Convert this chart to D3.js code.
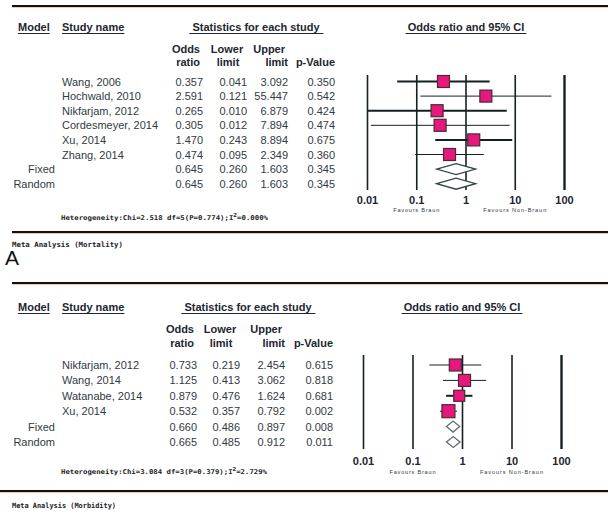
<!DOCTYPE html>
<html>
<head>
<meta charset="utf-8">
<script src="https://cdn.jsdelivr.net/npm/d3@7"></script>
<style>
  html, body { margin: 0; padding: 0; background: #fff; }
  svg { display: block; }
</style>
</head>
<body>
<svg id="chart" width="608" height="515"></svg>
<script>
// ---- Panel A: mortality ----
const mortalityStudies = ["Wang, 2006", "Hochwald, 2010", "Nikfarjam, 2012", "Cordesmeyer, 2014", "Xu, 2014", "Zhang, 2014"];
const mortalityModels = ["Fixed", "Random"];
const mortalityOR    = [0.357, 2.591, 0.265, 0.305, 1.470, 0.474, 0.645, 0.645];
const mortalityLower = [0.041, 0.121, 0.010, 0.012, 0.243, 0.095, 0.260, 0.260];
const mortalityUpper = [3.092, 55.447, 6.879, 7.894, 8.894, 2.349, 1.603, 1.603];
const mortalityP     = [0.350, 0.542, 0.424, 0.474, 0.675, 0.360, 0.345, 0.345];
const mortalityHet   = { chi: "2.518", df: "5", p: "0.774", i2: "0.000%" };

// ---- Panel B: morbidity ----
const morbidityStudies = ["Nikfarjam, 2012", "Wang, 2014", "Watanabe, 2014", "Xu, 2014"];
const morbidityModels = ["Fixed", "Random"];
const morbidityOR    = [0.733, 1.125, 0.879, 0.532, 0.660, 0.665];
const morbidityLower = [0.219, 0.413, 0.476, 0.357, 0.486, 0.485];
const morbidityUpper = [2.454, 3.062, 1.624, 0.792, 0.897, 0.912];
const morbidityP     = [0.615, 0.818, 0.681, 0.002, 0.008, 0.011];
const morbidityHet   = { chi: "3.084", df: "3", p: "0.379", i2: "2.729%" };

// Axis ticks shared by both forest plots
const tickValues = [0.01, 0.1, 1, 10, 100];
const tickLabels = ["0.01", "0.1", "1", "10", "100"];

const SANS = "'Liberation Sans', Arial, Helvetica, sans-serif";
const MONO = "'DejaVu Sans Mono', 'Liberation Mono', monospace";
const TEXT = "#323a44";
const HEAD = "#1d2631";
const INK  = "#152022";
const PINK = "#e8177c";

const svg = d3.select("#chart");

// horizontal rules with a faint warm shadow line under them
function rule(x1, x2, y) {
  svg.append("line").attr("x1", x1).attr("x2", x2).attr("y1", y + 1.6).attr("y2", y + 1.6)
    .attr("stroke", "#f2c3a6").attr("stroke-width", 1);
  svg.append("line").attr("x1", x1).attr("x2", x2).attr("y1", y).attr("y2", y)
    .attr("stroke", "#111").attr("stroke-width", 2.2);
}

function underlined(g, x, y, txt, anchor, pad) {
  const t = g.append("text").attr("x", x).attr("y", y).attr("text-anchor", anchor)
    .attr("font-family", SANS).attr("font-weight", "bold").attr("font-size", 11)
    .attr("fill", HEAD).text(txt);
  const b = t.node().getBBox();
  g.append("line").attr("x1", b.x - pad).attr("x2", b.x + b.width + pad)
    .attr("y1", y + 2.5).attr("y2", y + 2.5).attr("stroke", HEAD).attr("stroke-width", 1);
}

function panel(cfg) {
  const g = svg.append("g");
  const nStudies = cfg.studies.length;
  const nRows = cfg.or.length;
  const y = d3.scaleLinear().domain([0, nRows - 1])
    .range([cfg.rowY0, cfg.rowY0 + cfg.rowStep * (nRows - 1)]);
  const x = d3.scaleLog().domain([0.01, 100]).range(cfg.xRange);

  // column headings
  underlined(g, 18, cfg.headY, "Model", "start", 0);
  underlined(g, 62, cfg.headY, "Study name", "start", 0);
  underlined(g, cfg.statsCenter, cfg.headY, "Statistics for each study", "middle", 3);
  underlined(g, cfg.ciCenter, cfg.headY, "Odds ratio and 95% CI", "middle", 2);

  const sub = [
    { t: "Odds",    x: cfg.colOR - 3,  y: cfg.sub1, a: "end" },
    { t: "ratio",   x: cfg.colOR - 3,  y: cfg.sub2, a: "end" },
    { t: "Lower",   x: cfg.colLo - 20, y: cfg.sub1, a: "middle" },
    { t: "limit",   x: cfg.colLo - 19, y: cfg.sub2, a: "middle" },
    { t: "Upper",   x: cfg.colHi - 3,  y: cfg.sub1, a: "end" },
    { t: "limit",   x: cfg.colHi,      y: cfg.sub2, a: "end" },
    { t: "p-Value", x: cfg.colP,       y: cfg.sub2, a: "end" }
  ];
  g.selectAll("text.sub").data(sub).join("text").attr("class", "sub")
    .attr("x", d => d.x).attr("y", d => d.y).attr("text-anchor", d => d.a)
    .attr("font-family", SANS).attr("font-weight", "bold").attr("font-size", 11)
    .attr("fill", HEAD).text(d => d.t);

  const rows = d3.range(nRows).map(i => ({
    i,
    name: i < nStudies ? cfg.studies[i] : "",
    model: i < nStudies ? "" : cfg.models[i - nStudies],
    or: cfg.or[i], lo: cfg.lo[i], hi: cfg.hi[i], p: cfg.p[i],
    summary: i >= nStudies
  }));

  const txt = (sel) => sel.attr("font-family", SANS).attr("font-size", 11).attr("fill", TEXT);
  g.selectAll("text.name").data(rows).join("text").attr("class", "name")
    .attr("x", 62).attr("y", d => y(d.i) + 4).call(txt).text(d => d.name);
  g.selectAll("text.model").data(rows).join("text").attr("class", "model")
    .attr("x", 55).attr("y", d => y(d.i) + 4).attr("text-anchor", "end").call(txt).text(d => d.model);
  const cols = [
    { key: "or", x: cfg.colOR }, { key: "lo", x: cfg.colLo },
    { key: "hi", x: cfg.colHi }, { key: "p", x: cfg.colP }
  ];
  cols.forEach(c => {
    g.selectAll("text.v-" + c.key).data(rows).join("text").attr("class", "v-" + c.key)
      .attr("x", c.x).attr("y", d => y(d.i) + 4).attr("text-anchor", "end").call(txt)
      .text(d => d3.format(".3f")(d[c.key]));
  });

  // reference lines and tick labels
  const axis = d3.axisBottom(x).tickValues(tickValues)
    .tickFormat((d, i) => tickLabels[i])
    .tickSize(-(cfg.gridBot - cfg.gridTop)).tickPadding(cfg.tickY - cfg.gridBot - 8);
  const ax = g.append("g").attr("transform", `translate(0,${cfg.gridBot})`).call(axis);
  ax.select(".domain").remove();
  ax.selectAll(".tick line").attr("stroke", INK)
    .attr("stroke-width", d => d === 100 ? 2.4 : 1.6);
  ax.selectAll(".tick text").attr("font-family", SANS).attr("font-weight", "bold")
    .attr("font-size", 11).attr("fill", HEAD);

  // favours captions
  g.append("text").attr("x", x(0.1)).attr("y", cfg.favY).attr("text-anchor", "middle")
    .attr("font-family", SANS).attr("font-size", 5.6).attr("fill", TEXT)
    .attr("textLength", 46).text("Favours Braun");
  g.append("text").attr("x", x(10)).attr("y", cfg.favY).attr("text-anchor", "middle")
    .attr("font-family", SANS).attr("font-size", 5.6).attr("fill", TEXT)
    .attr("textLength", 63).text("Favours Non-Braun");

  // confidence intervals
  const studyRows = rows.filter(d => !d.summary);
  g.selectAll("line.ci").data(studyRows).join("line").attr("class", "ci")
    .attr("x1", d => x(Math.max(d.lo, 0.01))).attr("x2", d => x(Math.min(d.hi, 100)))
    .attr("y1", d => y(d.i)).attr("y2", d => y(d.i))
    .attr("stroke", INK).attr("stroke-width", (d, i) => cfg.ciWidth[i]);

  // point estimates
  g.selectAll("rect.pt").data(studyRows).join("rect").attr("class", "pt")
    .attr("x", (d, i) => x(d.or) - cfg.box[i] / 2).attr("y", (d, i) => y(d.i) - cfg.box[i] / 2)
    .attr("width", (d, i) => cfg.box[i]).attr("height", (d, i) => cfg.box[i])
    .attr("fill", PINK).attr("stroke", "#4a2a35").attr("stroke-width", 1.2);

  // pooled estimates
  const sumRows = rows.filter(d => d.summary);
  g.selectAll("path.dia").data(sumRows).join("path").attr("class", "dia")
    .attr("d", d => {
      const cy = y(d.i), h = cfg.diaH;
      return `M${x(d.lo)},${cy}L${x(d.or)},${cy - h}L${x(d.hi)},${cy}L${x(d.or)},${cy + h}Z`;
    })
    .attr("fill", "#fff").attr("stroke", cfg.diaStroke).attr("stroke-width", 1.3);

  // heterogeneity note
  const h = cfg.het;
  const ht = g.append("text").attr("x", 61).attr("y", cfg.hetY)
    .attr("font-family", MONO).attr("font-weight", "bold").attr("font-size", 6.6)
    .attr("fill", "#222").attr("textLength", cfg.hetLen).attr("lengthAdjust", "spacingAndGlyphs");
  ht.append("tspan").text(`Heterogeneity:Chi=${h.chi} df=${h.df}(P=${h.p});I`);
  ht.append("tspan").attr("dy", -3).attr("font-size", 5.5).text("2");
  ht.append("tspan").attr("dy", 3).text(`=${h.i2}`);
}

rule(12, 608, 6);

panel({
  studies: mortalityStudies, models: mortalityModels,
  or: mortalityOR, lo: mortalityLower, hi: mortalityUpper, p: mortalityP, het: mortalityHet,
  rowY0: 81.5, rowStep: 14.6, headY: 31, sub1: 53, sub2: 66,
  colOR: 203, colLo: 247, colHi: 288, colP: 335,
  statsCenter: 256, ciCenter: 466,
  xRange: [367, 564], gridTop: 75, gridBot: 190, tickY: 204, favY: 212,
  ciWidth: [2, 1, 2, 1, 2, 1], box: [12, 12, 12, 12, 12, 12],
  diaH: 5.5, diaStroke: "#34454a", hetY: 220, hetLen: 207
});

rule(12, 608, 232);
svg.append("text").attr("x", 12).attr("y", 247).attr("font-family", MONO).attr("font-weight", "bold")
  .attr("font-size", 7.2).attr("fill", "#222").attr("textLength", 111)
  .attr("lengthAdjust", "spacingAndGlyphs").text("Meta Analysis (Mortality)");
svg.append("text").attr("x", 5).attr("y", 265).attr("font-family", SANS)
  .attr("font-size", 21).attr("fill", "#111").text("A");
rule(12, 608, 283);

panel({
  studies: morbidityStudies, models: morbidityModels,
  or: morbidityOR, lo: morbidityLower, hi: morbidityUpper, p: morbidityP, het: morbidityHet,
  rowY0: 365, rowStep: 15.4, headY: 311, sub1: 333, sub2: 347,
  colOR: 197, colLo: 240, colHi: 285, colP: 333,
  statsCenter: 248, ciCenter: 462,
  xRange: [363, 561], gridTop: 355, gridBot: 449, tickY: 465, favY: 474,
  ciWidth: [1, 1, 2, 1], box: [12, 12, 11, 13],
  diaH: 5.5, diaStroke: "#5d7070", hetY: 474, hetLen: 206
});

rule(0, 608, 491);
svg.append("text").attr("x", 12).attr("y", 508).attr("font-family", MONO).attr("font-weight", "bold")
  .attr("font-size", 7.2).attr("fill", "#222").attr("textLength", 104)
  .attr("lengthAdjust", "spacingAndGlyphs").text("Meta Analysis (Morbidity)");
</script>
</body>
</html>
